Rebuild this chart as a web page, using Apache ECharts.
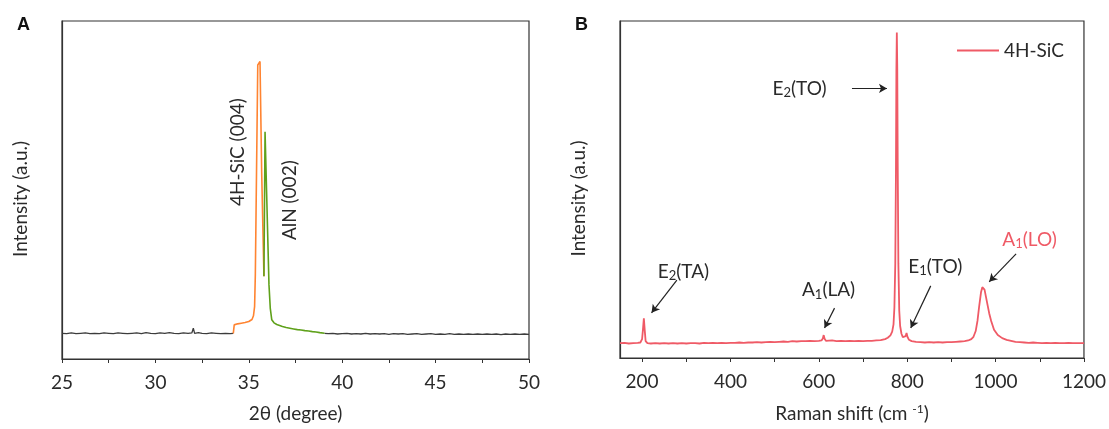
<!DOCTYPE html>
<html>
<head>
<meta charset="utf-8">
<script src="https://cdn.jsdelivr.net/npm/echarts@6/dist/echarts.min.js"></script>
<style>html,body{margin:0;padding:0;background:#fff;}#c{width:1109px;height:429px;}</style>
</head>
<body>
<div id="c"></div>
<script>
// ---------- Panel A: XRD ----------
var xrdTicksA = [25, 30, 35, 40, 45, 50];
var xrdBaseLeft = [
[25.0,7.6],[25.25,7.5],[25.5,7.7],[25.75,7.5],[26.0,7.6],[26.25,7.7],[26.5,7.5],[26.75,7.6],[27.0,7.5],[27.25,7.7],
[27.5,7.6],[27.75,7.5],[28.0,7.7],[28.25,7.6],[28.5,7.5],[28.75,7.6],[29.0,7.7],[29.25,7.5],[29.5,7.8],[29.75,7.6],
[30.0,7.5],[30.25,7.7],[30.5,7.6],[30.75,7.8],[31.0,7.6],[31.25,7.5],[31.5,7.7],[31.75,7.6],[31.95,7.7],[32.03,9.1],
[32.1,7.6],[32.3,7.8],[32.5,7.6],[32.75,7.5],[33.0,7.7],[33.25,7.6],[33.5,7.5],[33.75,7.6],[34.0,7.5],[34.17,7.6]
];
var xrdSiC = [
[34.17,7.6],[34.22,10.1],[34.3,10.0],[34.4,10.4],[34.5,10.3],[34.6,10.6],[34.7,10.5],[34.8,10.8],[34.9,10.9],[35.0,11.1],
[35.1,11.3],[35.17,11.7],[35.25,12.8],[35.31,15.5],[35.35,25],[35.48,87.0],[35.6,88.0],[35.69,55],[35.81,24.5]
];
var xrdAlN = [
[35.81,24.5],[35.87,67.2],[35.95,50],[36.08,22],[36.15,15],[36.23,11.6],[36.35,10.7],[36.5,10.2],[36.65,9.9],
[36.8,9.6],[37.0,9.3],[37.2,9.1],[37.4,8.9],[37.6,8.7],[37.8,8.6],[38.0,8.4],[38.2,8.3],[38.4,8.1],[38.6,8.0],
[38.8,7.8],[39.05,7.6]
];
var xrdBaseRight = [
[39.05,7.6],[39.25,7.5],[39.5,7.6],[39.75,7.4],[40.0,7.5],[40.25,7.6],[40.5,7.4],[40.75,7.5],[41.0,7.4],[41.25,7.6],
[41.5,7.4],[41.75,7.5],[42.0,7.4],[42.25,7.5],[42.5,7.3],[42.75,7.5],[43.0,7.4],[43.25,7.5],[43.5,7.3],[43.75,7.4],
[44.0,7.5],[44.25,7.3],[44.5,7.4],[44.75,7.5],[45.0,7.3],[45.25,7.4],[45.5,7.3],[45.75,7.5],[46.0,7.3],[46.25,7.4],
[46.5,7.3],[46.75,7.4],[47.0,7.3],[47.25,7.4],[47.5,7.3],[47.75,7.4],[48.0,7.3],[48.25,7.4],[48.5,7.2],[48.75,7.4],
[49.0,7.3],[49.25,7.4],[49.5,7.3],[49.75,7.4],[50.0,7.3]
];

// ---------- Panel B: Raman ----------
var ramanLabelTicks = [200, 400, 600, 800, 1000, 1200];
var ramanTicks = [200, 300, 400, 500, 600, 700, 800, 900, 1000, 1100, 1200];
var raman = [
[150,4.4],[160,4.5],[170,4.3],[180,4.4],[190,4.5],[196,4.6],[200,5.6],[202,8.5],[204,11.8],[206,8.2],
[208,5.0],[212,4.4],[220,4.3],[230,4.4],[240,4.3],[250,4.4],[260,4.3],[270,4.4],[280,4.3],[290,4.4],
[300,4.3],[310,4.4],[320,4.4],[330,4.3],[340,4.5],[350,4.4],[360,4.5],[370,4.4],[380,4.5],[390,4.4],
[400,4.5],[410,4.5],[420,4.6],[430,4.5],[440,4.6],[450,4.6],[460,4.7],[470,4.6],[480,4.7],[490,4.8],
[500,4.7],[510,4.8],[520,4.9],[530,4.8],[540,5.0],[550,4.9],[560,5.0],[570,5.0],[580,5.1],[590,5.0],
[600,5.1],[606,5.2],[609,5.8],[611,6.8],[613,5.7],[616,5.1],[620,5.1],[630,5.2],[640,5.0],[650,5.1],
[660,5.0],[670,5.1],[680,5.0],[690,5.1],[700,5.0],[710,5.1],[720,5.1],[730,5.2],[740,5.3],[750,5.6],
[756,6.0],[762,6.7],[766,7.8],[769,10],[771,15],[773,28],[774.5,55],[775.5,85],[776.5,96.6],[777.5,86],
[778.5,58],[780,28],[782,14],[784,9.5],[787,7.2],[790,6.2],[794,5.8],[796.5,6.5],[798.5,7.4],[800.5,6.3],
[804,5.4],[810,5.0],[820,4.8],[830,4.7],[840,4.6],[850,4.7],[860,4.6],[870,4.7],[880,4.6],[890,4.7],
[900,4.7],[910,4.8],[920,4.9],[930,5.0],[938,5.2],[945,5.6],[950,6.3],[955,8.0],[959,11.0],[963,15.5],
[967,19.5],[970,21.0],[972.5,21.2],[975,20.3],[978,18.3],[982,15.6],[985.5,13.3],[990,11.0],[996.5,8.4],[1005,6.8],
[1015,5.9],[1025,5.4],[1035,5.1],[1045,4.8],[1055,4.7],[1065,4.6],[1075,4.5],[1085,4.6],[1095,4.5],[1105,4.4],
[1115,4.5],[1125,4.4],[1135,4.5],[1145,4.4],[1155,4.4],[1165,4.5],[1175,4.4],[1185,4.4],[1200,4.4]
];

var FONT = 'Lato';
var FS = 19;
var TXT = '#2a2a2a';
var AX = '#333';
var RED = '#ef5a66';

function axisBase(){
  return {
    axisLine:{show:true,onZero:false,lineStyle:{color:AX,width:1.2}},
    splitLine:{show:false}
  };
}
function lbl(text, x, y, color, extra){
  var c = color || TXT;
  var o = {coord:[x,y], symbol:'circle', symbolSize:0.01,
    label:{show:true, position:'inside', formatter:text, fontFamily:FONT, fontSize:FS, color:c,
      rich:{s:{fontSize:13, fontFamily:FONT, color:c, verticalAlign:'bottom', lineHeight:16},
            n:{fontSize:FS, fontFamily:FONT, color:c, lineHeight:22}}}};
  if (extra) { for (var k in extra) o.label[k] = extra[k]; }
  return o;
}
function arrow(x1,y1,x2,y2){ return [{coord:[x1,y1]},{coord:[x2,y2]}]; }
function plain(v){ return String(v); }

var chart = echarts.init(document.getElementById('c'), null, {renderer:'canvas'});
var xa = axisBase(), xb = axisBase(), ya = axisBase(), yb = axisBase();
var nameStyle = {fontFamily:FONT, fontSize:FS, color:TXT};

var option = {
  animation:false,
  textStyle:{fontFamily:FONT},
  title:[
    {text:'A', left:12, top:11, textStyle:{fontFamily:'Liberation Sans', fontWeight:'bold', fontSize:18, color:'#111'}},
    {text:'B', left:570, top:11, textStyle:{fontFamily:'Liberation Sans', fontWeight:'bold', fontSize:18, color:'#111'}}
  ],
  legend:{data:['4H-SiC'], left:952, top:36, icon:'rect', itemWidth:42, itemHeight:2, itemGap:8,
    itemStyle:{color:RED},
    textStyle:{fontFamily:FONT, fontSize:FS, color:TXT}},
  grid:[
    {left:62, right:580, top:21, bottom:70, show:true, borderColor:AX, borderWidth:1.2, containLabel:false},
    {left:620, right:24, top:21, bottom:71, show:true, borderColor:AX, borderWidth:1.2, containLabel:false}
  ],
  xAxis:[
    Object.assign(xa, {gridIndex:0, type:'value', min:25, max:50, interval:5,
      name:'2θ (degree)', nameLocation:'middle', nameGap:45, nameTextStyle:nameStyle,
      axisTick:{show:true, inside:false, length:4, lineStyle:{color:AX}},
      minorTick:{show:true, splitNumber:2, length:4, lineStyle:{color:AX}},
      axisLabel:{fontFamily:FONT, fontSize:FS, color:TXT, margin:14, customValues:xrdTicksA, formatter:plain}}),
    Object.assign(xb, {gridIndex:1, type:'value', min:150, max:1200,
      name:'{n|Raman shift (cm }{p|-1}{n|)}', nameLocation:'middle', nameGap:45,
      nameTextStyle:{fontFamily:FONT, fontSize:FS, color:TXT,
        rich:{n:{fontFamily:FONT, fontSize:FS, color:TXT, lineHeight:22}, p:{fontFamily:FONT, fontSize:12, color:TXT, verticalAlign:'top', lineHeight:22, padding:[0,0,8,0]}}},
      axisTick:{show:true, inside:false, length:4, lineStyle:{color:AX}, customValues:ramanTicks},
      axisLabel:{fontFamily:FONT, fontSize:FS, color:TXT, margin:14, customValues:ramanLabelTicks, formatter:plain}})
  ],
  yAxis:[
    Object.assign(ya, {gridIndex:0, type:'value', min:0, max:100, axisTick:{show:false}, axisLabel:{show:false},
      name:'Intensity (a.u.)', nameLocation:'middle', nameGap:32,
      nameTextStyle:{fontFamily:FONT, fontSize:FS, color:TXT, padding:[0,18,0,0]}}),
    Object.assign(yb, {gridIndex:1, type:'value', min:0, max:100, axisTick:{show:false}, axisLabel:{show:false},
      name:'Intensity (a.u.)', nameLocation:'middle', nameGap:32,
      nameTextStyle:{fontFamily:FONT, fontSize:FS, color:TXT, padding:[0,18,0,0]}})
  ],
  series:[
    {name:'base1', type:'line', xAxisIndex:0, yAxisIndex:0, data:xrdBaseLeft, showSymbol:false, symbol:'none',
      lineStyle:{color:'#3c3c3c', width:1.3}},
    {name:'base2', type:'line', xAxisIndex:0, yAxisIndex:0, data:xrdBaseRight, showSymbol:false, symbol:'none',
      lineStyle:{color:'#3c3c3c', width:1.3}},
    {name:'SiC', type:'line', xAxisIndex:0, yAxisIndex:0, data:xrdSiC, showSymbol:false, symbol:'none',
      lineStyle:{color:'#ff8431', width:1.6},
      markPoint:{silent:true, data:[lbl('4H-SiC (004)', 34.42, 61.2, TXT, {rotate:90})]}},
    {name:'AlN', type:'line', xAxisIndex:0, yAxisIndex:0, data:xrdAlN, showSymbol:false, symbol:'none',
      lineStyle:{color:'#5fa11b', width:1.6},
      markPoint:{silent:true, data:[lbl('AlN (002)', 37.2, 47.0, TXT, {rotate:90})]}},
    {name:'4H-SiC', type:'line', xAxisIndex:1, yAxisIndex:1, data:raman, showSymbol:false, symbol:'none',
      itemStyle:{color:RED}, lineStyle:{color:RED, width:1.8},
      markPoint:{silent:true, data:[
        lbl('{n|E}{s|2}{n|(TO)}', 556.4, 80.0),
        lbl('{n|E}{s|2}{n|(TA)}', 293.4, 25.6),
        lbl('{n|A}{s|1}{n|(LA)}', 622, 20.2),
        lbl('{n|E}{s|1}{n|(TO)}', 863.5, 27.1),
        lbl('{n|A}{s|1}{n|(LO)}', 1077, 35.2, RED)
      ]},
      markLine:{silent:true, symbol:['none','arrow'], symbolSize:[7,8], label:{show:false},
        lineStyle:{color:'#222', width:1.2, type:'solid'},
        emphasis:{disabled:true},
        data:[
          arrow(675, 80.0, 754.2, 80.0),
          arrow(278.7, 23.1, 221.4, 13.4),
          arrow(635.5, 14.8, 612.9, 8.9),
          arrow(853.2, 21.4, 808, 8.9),
          arrow(1046.4, 30.9, 985.5, 22.6)
        ]}
    }
  ]
};
chart.setOption(option);
</script>
</body>
</html>
